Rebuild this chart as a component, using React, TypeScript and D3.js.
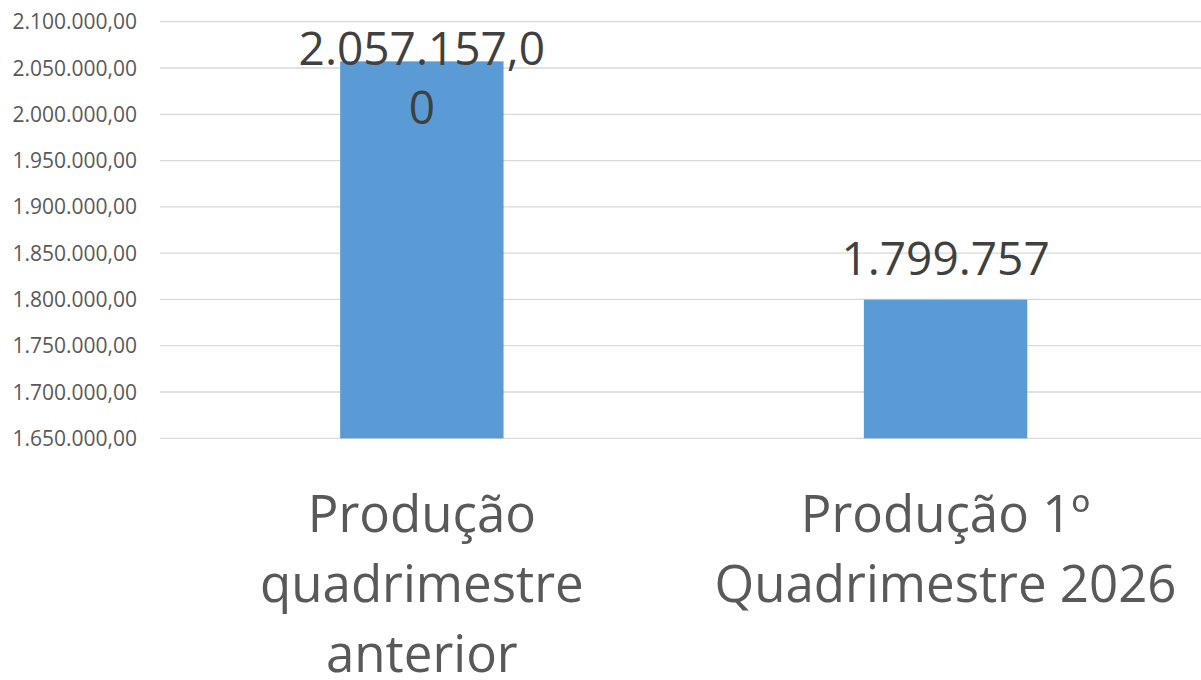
import React from "react";
import * as d3 from "d3";

const categories = ["Produção quadrimestre anterior", "Produção 1º Quadrimestre 2026"];
const categoryLines = [["Produção", "quadrimestre", "anterior"], ["Produção 1º", "Quadrimestre 2026"]];
const values = [2057157, 1799757];
const dataLabelLines = [["2.057.157,0", "0"], ["1.799.757"]];
const yDomain = [1650000, 2100000];
const tickValues = [1650000, 1700000, 1750000, 1800000, 1850000, 1900000, 1950000, 2000000, 2050000, 2100000];

const W = 1201;
const H = 680;
const FONT = "'Open Sans', 'Noto Sans', sans-serif";

const locale = d3.formatLocale({ decimal: ",", thousands: ".", grouping: [3], currency: ["R$", ""] });
const tickFmt = locale.format(",.2f");

export default function App() {
  const x = d3.scaleBand<string>().domain(categories).range([160, 1207.4]).paddingInner(0.688).paddingOuter(0.344);
  const y = d3.scaleLinear().domain(yDomain).range([438.3, 21.7]);
  const bw = x.bandwidth();
  return (
    <svg width={W} height={H} style={{ position: "absolute", left: 0, top: 0, background: "#fff" }} fontFamily={FONT}>
      <rect x={0} y={0} width={W} height={H} fill="#fff" />
      {tickValues.map((t) => (
        <g key={t}>
          <line x1={160} x2={W} y1={y(t)} y2={y(t)} stroke="#d9d9d9" strokeWidth={1.3} />
          <text x={137} y={y(t)} dy="0.36em" textAnchor="end" fontSize={21} fill="#595959">
            {tickFmt(t)}
          </text>
        </g>
      ))}
      {categories.map((c, i) => {
        const cx = (x(c) as number) + bw / 2;
        const top = y(values[i]);
        const lines = dataLabelLines[i];
        const lh = 58.5;
        const lastBase = top - 25;
        let firstBase = lastBase - (lines.length - 1) * lh;
        firstBase = Math.max(firstBase, y(yDomain[1]) + 43.5);
        return (
          <g key={c}>
            <rect x={x(c)} y={top} width={bw} height={y(yDomain[0]) - top} fill="#5b9bd5" />
            {lines.map((l, j) => (
              <text key={j} x={cx} y={firstBase + j * lh} textAnchor="middle" fontSize={46} fill="#404040">
                {l}
              </text>
            ))}
            {categoryLines[i].map((l, j) => (
              <text key={"c" + j} x={cx} y={532 + j * 70} textAnchor="middle" fontSize={51} fill="#595959">
                {l}
              </text>
            ))}
          </g>
        );
      })}
    </svg>
  );
}
